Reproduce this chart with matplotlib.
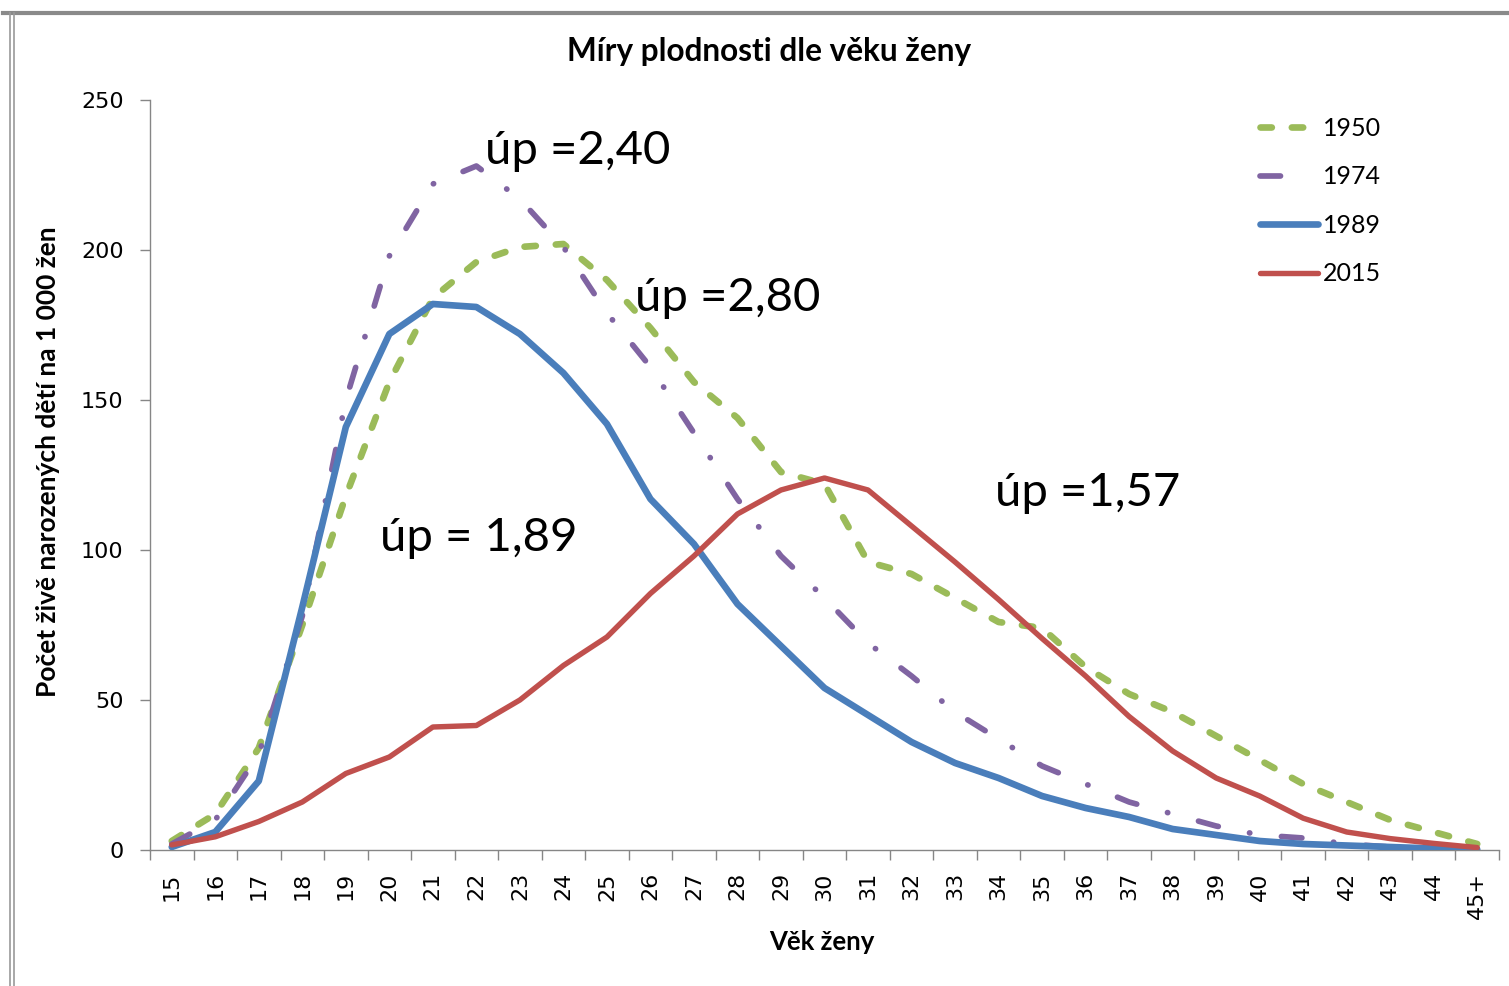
import numpy as np
import matplotlib
matplotlib.use("Agg")
import matplotlib.pyplot as plt
from matplotlib.lines import Line2D

ages = ["15", "16", "17", "18", "19", "20", "21", "22", "23", "24", "25", "26", "27", "28", "29",
        "30", "31", "32", "33", "34", "35", "36", "37", "38", "39", "40", "41", "42", "43", "44", "45+"]

r1950 = [3, 12, 34, 75, 118, 156, 184, 196, 201, 202, 190, 174, 156, 144, 126,
         122, 96, 92, 84, 76, 74, 61, 52, 46, 38, 30, 22, 16, 10, 6, 2]
r1974 = [2, 10, 32, 78, 150, 198, 222, 228, 217, 201, 179, 161, 139, 117, 98,
         84, 69, 58, 46, 37, 28, 22, 16, 12, 8, 5, 4, 2, 1, 0.5, 0.3]
r1989 = [1, 6, 23, 81, 141, 172, 182, 181, 172, 159, 142, 117, 102, 82, 68,
         54, 45, 36, 29, 24, 18, 14, 11, 7, 5, 3, 2, 1.5, 1, 0.5, 0.2]
r2015 = [1.7, 4.4, 9.5, 16, 25.5, 31, 41, 41.5, 50, 61.5, 71, 85.5, 98, 112, 120,
         124, 120, 108, 96, 83.5, 70.5, 58, 44.5, 33, 24, 18, 10.6, 6, 3.8, 2.2, 0.8]

series = ["1950", "1974", "1989", "2015"]
colors = ["#9BBB59", "#8064A2", "#4A7EBB", "#C0504D"]

labels_up = ["úp =2,40", "úp =2,80", "úp = 1,89", "úp =1,57"]
labels_x = [7.2, 10.64, 4.78, 18.92]
labels_y = [233, 184, 104, 119]

W, H = 1509, 986
fig = plt.figure(figsize=(W / 100, H / 100), dpi=100)
ax = fig.add_axes([150 / W, (H - 850) / H, 1349 / W, 750 / H])

x = np.arange(len(ages))
styles = [
    dict(lw=4.8, ls=(0, (1.7, 3.0)), dash_capstyle="round", zorder=3),
    dict(lw=4.1, ls=(0, (3.6, 5.6, 0.05, 5.6)), dash_capstyle="round", zorder=3),
    dict(lw=4.8, solid_capstyle="round", zorder=4),
    dict(lw=3.9, solid_capstyle="round", zorder=5),
]
for vals, name, c, st in zip([r1950, r1974, r1989, r2015], series, colors, styles):
    ax.plot(x, vals, color=c, label=name, **st)

ax.set_xlim(-0.5, len(ages) - 0.5)
ax.set_ylim(0, 250)

gray = "#868686"
for s in ["top", "right"]:
    ax.spines[s].set_visible(False)
for s in ["left", "bottom"]:
    ax.spines[s].set_color(gray)
    ax.spines[s].set_linewidth(1.0)

ax.set_yticks([0, 50, 100, 150, 200, 250])
ax.tick_params(axis="y", length=7, color=gray, width=1.0, pad=12, labelsize=16)
ax.set_xticks(x)
ax.set_xticklabels(ages, rotation=90, fontsize=16)
ax.set_xticks(np.arange(-0.5, len(ages), 1), minor=True)
ax.tick_params(axis="x", which="major", length=0, pad=16)
ax.tick_params(axis="x", which="minor", length=7, color=gray, width=1.0)

font = "Lato"
for t, xx, yy in zip(labels_up, labels_x, labels_y):
    ax.text(xx, yy, t, fontsize=34, family=font, va="center", ha="left", zorder=6)

fig.text(769 / W, 1 - 52 / H, "Míry plodnosti dle věku ženy", ha="center", va="center",
         fontsize=22.7, fontweight="bold", family=font)
ax.set_ylabel("Počet živě narozených dětí na 1 000 žen", fontsize=19, fontweight="bold", family=font)
ax.yaxis.set_label_coords((60 - 150) / 1349, (850 - 462) / 750)
ax.set_xlabel("Věk ženy", fontsize=18.5, fontweight="bold", family=font)
ax.xaxis.set_label_coords((822 - 150) / 1349, (850 - 930) / 750)

# legend: the 1974 key shows only one dash of its pattern
handles = [
    Line2D([], [], color=colors[0], **styles[0]),
    Line2D([], [], color=colors[1], lw=4.1, ls=(0, (3.6, 20)), dash_capstyle="round"),
    Line2D([], [], color=colors[2], **styles[2]),
    Line2D([], [], color=colors[3], **styles[3]),
]
ax.legend(handles, series, loc="upper left", bbox_to_anchor=((1250 - 150) / 1349, (850 - 107) / 750),
          frameon=False, prop={"family": font, "size": 18}, handlelength=2.3,
          handletextpad=0.2, labelspacing=1.02, borderaxespad=0)

# chart border visible at the edges of the screenshot
fig.add_artist(Line2D([3 / W, 1], [1 - 13 / H, 1 - 13 / H], transform=fig.transFigure,
                      color="#8a8a8a", lw=3))
for xb in [10, 14]:
    fig.add_artist(Line2D([xb / W, xb / W], [0, 1 - 13 / H], transform=fig.transFigure,
                          color="#9a9a9a", lw=1.2))

fig.savefig("out.png", dpi=100)
